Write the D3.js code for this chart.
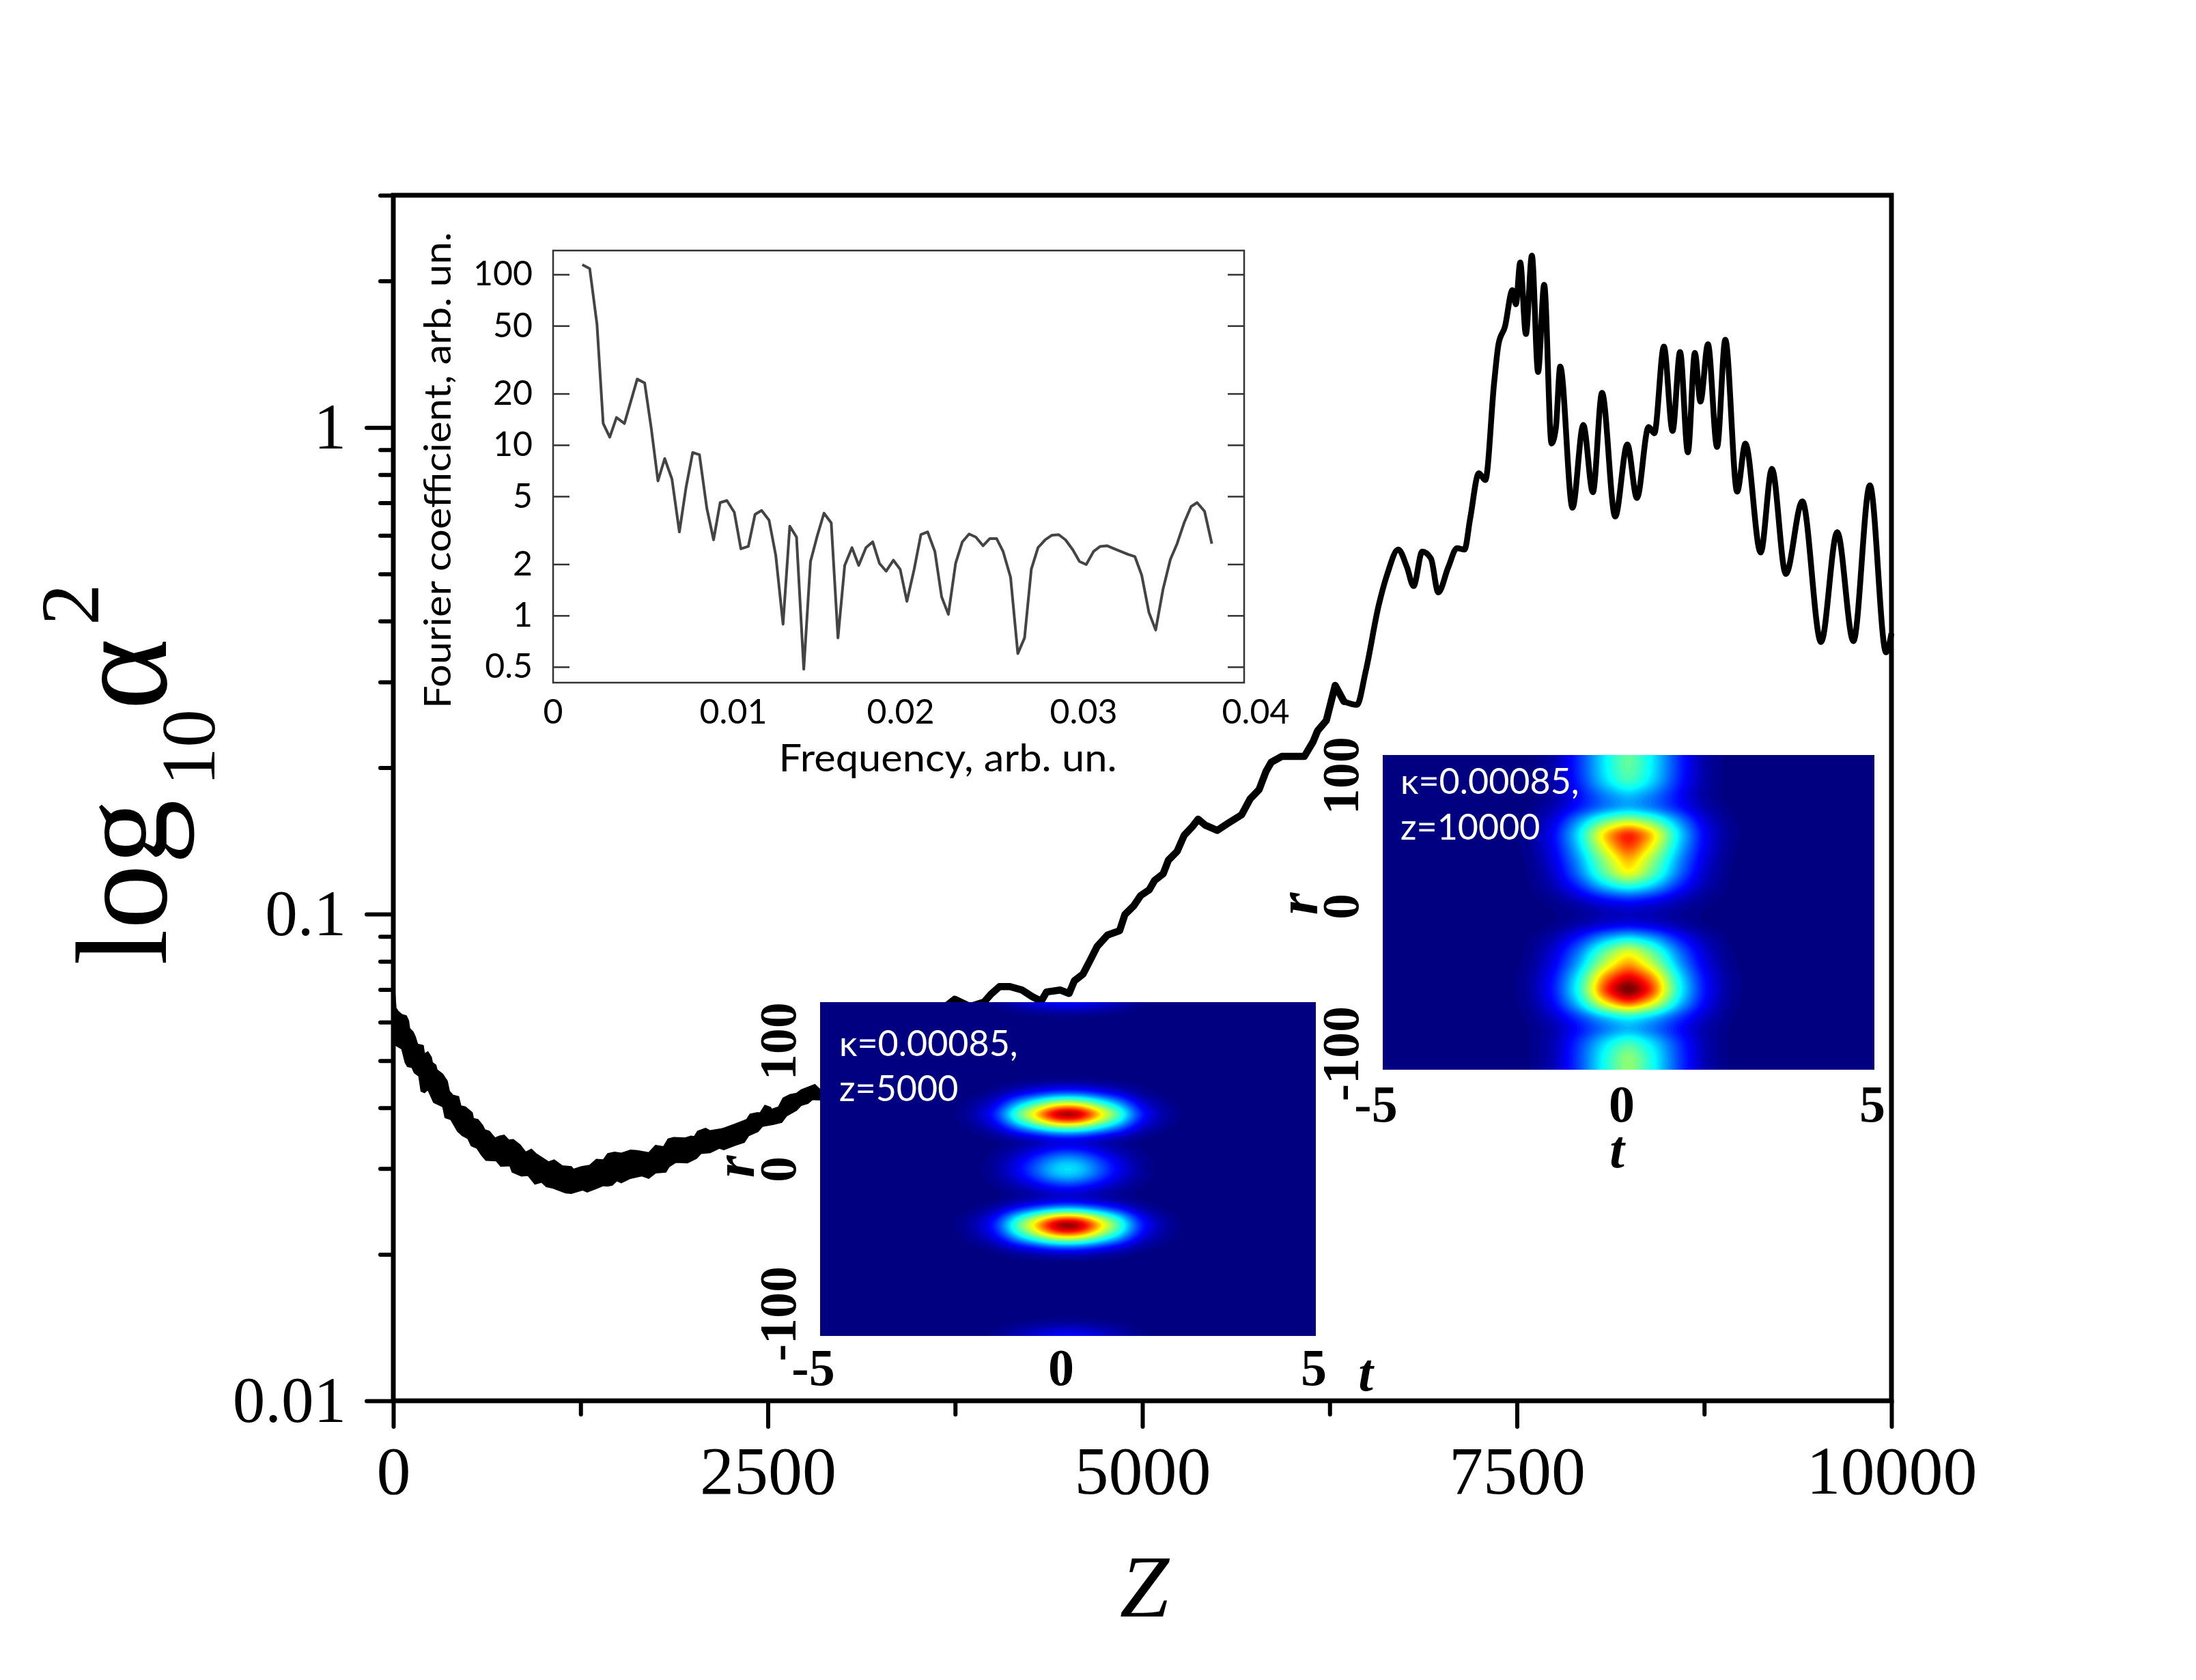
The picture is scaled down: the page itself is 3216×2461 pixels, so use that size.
<!DOCTYPE html>
<html>
<head>
<meta charset="utf-8">
<script src="https://cdn.jsdelivr.net/npm/d3@7"></script>
<style>
  body { margin: 0; background: #fff; }
  svg { display: block; }
  text { fill: #000; }
</style>
</head>
<body>
<div class="graph"></div>
<script>
// main curve, z against log10 of alpha^2
// the early part oscillates so fast it reads as a band, so keep its two edges
const topZ = [0, 5, 18, 33, 56, 87, 102, 109, 132, 147, 162, 200, 208, 231, 254, 261, 284, 292, 330, 360, 375, 398, 436, 451, 481, 527, 535, 565, 596, 611, 641, 679, 709, 740, 770, 801, 846, 884, 922, 952, 1006, 1036, 1074, 1127, 1188, 1203, 1256, 1310, 1355, 1401, 1431, 1477, 1522, 1583, 1629, 1705, 1750, 1803, 1834, 1872, 1948, 1986, 2009, 2031, 2084, 2115, 2191, 2214, 2282, 2358, 2381, 2426, 2449, 2480, 2518, 2525, 2571, 2601, 2647, 2692, 2723, 2814, 2837, 2852, 2900];
const topLog = [-1.05, -1.14, -1.193, -1.200, -1.206, -1.209, -1.219, -1.235, -1.242, -1.252, -1.267, -1.270, -1.287, -1.283, -1.294, -1.305, -1.310, -1.320, -1.329, -1.343, -1.364, -1.372, -1.375, -1.394, -1.396, -1.408, -1.420, -1.422, -1.434, -1.443, -1.446, -1.460, -1.456, -1.454, -1.464, -1.463, -1.474, -1.489, -1.483, -1.492, -1.503, -1.509, -1.505, -1.517, -1.519, -1.524, -1.519, -1.516, -1.504, -1.505, -1.492, -1.489, -1.491, -1.485, -1.486, -1.490, -1.475, -1.478, -1.462, -1.459, -1.460, -1.456, -1.457, -1.446, -1.440, -1.445, -1.441, -1.439, -1.431, -1.422, -1.411, -1.408, -1.408, -1.393, -1.397, -1.401, -1.396, -1.378, -1.371, -1.368, -1.361, -1.350, -1.357, -1.361, -1.345];
const bottomZ = [0, 18, 56, 79, 94, 124, 140, 170, 185, 208, 231, 269, 330, 345, 383, 428, 459, 497, 520, 558, 588, 618, 687, 717, 778, 793, 854, 899, 945, 990, 1021, 1066, 1150, 1188, 1264, 1294, 1355, 1401, 1431, 1462, 1492, 1522, 1583, 1659, 1705, 1750, 1819, 1841, 1887, 1963, 2024, 2054, 2115, 2176, 2206, 2282, 2343, 2373, 2434, 2464, 2540, 2593, 2624, 2692, 2723, 2768, 2798, 2852, 2900];
const bottomLog = [-1.27, -1.270, -1.277, -1.305, -1.313, -1.315, -1.326, -1.333, -1.364, -1.367, -1.361, -1.387, -1.396, -1.418, -1.422, -1.446, -1.455, -1.461, -1.476, -1.481, -1.495, -1.506, -1.507, -1.518, -1.517, -1.530, -1.538, -1.537, -1.555, -1.551, -1.560, -1.563, -1.573, -1.574, -1.567, -1.571, -1.564, -1.558, -1.559, -1.557, -1.548, -1.552, -1.543, -1.538, -1.543, -1.532, -1.530, -1.519, -1.510, -1.511, -1.502, -1.492, -1.490, -1.481, -1.484, -1.475, -1.469, -1.455, -1.447, -1.436, -1.432, -1.428, -1.415, -1.403, -1.393, -1.389, -1.381, -1.382, -1.370];

const alphaZ = [2900, 3400, 3747, 3850, 3942, 3988, 4046, 4116, 4197, 4267, 4325, 4360, 4453, 4511, 4546, 4604, 4651, 4697, 4767, 4848, 4883, 4942, 4988, 5046, 5081, 5139, 5174, 5232, 5279, 5337, 5372, 5418, 5500, 5569, 5662, 5720, 5779, 5825, 5860, 5930, 6081, 6139, 6170, 6228, 6287, 6345, 6432, 6490, 6577, 6635, 6708, 6766, 6810, 6868, 6926, 6975, 7042, 7100, 7150, 7188, 7246, 7289, 7348, 7377, 7420, 7470, 7493, 7522, 7560, 7600, 7641, 7682, 7731, 7760, 7789, 7871, 7943, 8007, 8068, 8156, 8237, 8301, 8379, 8417, 8481, 8539, 8589, 8641, 8688, 8725, 8775, 8836, 8891, 8970, 9025, 9127, 9202, 9295, 9405, 9530, 9638, 9746, 9856, 9964, 10000];
const alphaLog = [-1.352, -1.26, -1.175, -1.19, -1.181, -1.165, -1.149, -1.149, -1.156, -1.170, -1.179, -1.160, -1.156, -1.163, -1.137, -1.123, -1.095, -1.067, -1.043, -1.034, -1.001, -0.983, -0.962, -0.950, -0.931, -0.917, -0.889, -0.871, -0.838, -0.819, -0.805, -0.817, -0.828, -0.814, -0.796, -0.763, -0.744, -0.707, -0.688, -0.676, -0.676, -0.646, -0.623, -0.602, -0.530, -0.563, -0.570, -0.502, -0.366, -0.301, -0.251, -0.287, -0.326, -0.255, -0.269, -0.339, -0.287, -0.248, -0.251, -0.187, -0.094, -0.108, 0.092, 0.171, 0.207, 0.282, 0.253, 0.339, 0.192, 0.353, 0.114, 0.293, -0.033, -0.001, 0.125, -0.165, 0.005, -0.133, 0.071, -0.183, -0.035, -0.145, 0.001, -0.012, 0.166, -0.007, 0.155, -0.051, 0.153, 0.053, 0.171, -0.040, 0.180, -0.132, -0.033, -0.257, -0.085, -0.301, -0.152, -0.441, -0.215, -0.439, -0.119, -0.462, -0.423];

// fourier inset
const freq = [0.00169, 0.00212, 0.00254, 0.00290, 0.00328, 0.00367, 0.00413, 0.00487, 0.00530, 0.00568, 0.00607, 0.00646, 0.00688, 0.00731, 0.00770, 0.00808, 0.00847, 0.00890, 0.00929, 0.00967, 0.01006, 0.01049, 0.01087, 0.01130, 0.01169, 0.01207, 0.01250, 0.01289, 0.01331, 0.01370, 0.01409, 0.01451, 0.01490, 0.01529, 0.01568, 0.01610, 0.01649, 0.01688, 0.01730, 0.01769, 0.01811, 0.01850, 0.01889, 0.01928, 0.01970, 0.02009, 0.02048, 0.02090, 0.02129, 0.02168, 0.02210, 0.02249, 0.02288, 0.02330, 0.02369, 0.02408, 0.02447, 0.02489, 0.02528, 0.02567, 0.02605, 0.02648, 0.02690, 0.02729, 0.02768, 0.02807, 0.02849, 0.02888, 0.02927, 0.02966, 0.03008, 0.03047, 0.03086, 0.03128, 0.03167, 0.03206, 0.03248, 0.03287, 0.03326, 0.03368, 0.03407, 0.03449, 0.03488, 0.03531, 0.03573, 0.03612, 0.03654, 0.03693, 0.03728, 0.03771, 0.03813];
const coefLog = [2.057, 2.034, 1.708, 1.126, 1.046, 1.161, 1.126, 1.386, 1.363, 1.099, 0.789, 0.920, 0.800, 0.490, 0.754, 0.956, 0.943, 0.628, 0.444, 0.662, 0.674, 0.605, 0.391, 0.405, 0.593, 0.616, 0.559, 0.352, -0.051, 0.524, 0.460, -0.315, 0.317, 0.467, 0.600, 0.543, -0.131, 0.294, 0.398, 0.294, 0.398, 0.432, 0.306, 0.260, 0.324, 0.271, 0.083, 0.271, 0.474, 0.490, 0.375, 0.110, 0.007, 0.306, 0.432, 0.478, 0.460, 0.409, 0.451, 0.451, 0.375, 0.225, -0.223, -0.131, 0.271, 0.398, 0.444, 0.471, 0.474, 0.444, 0.386, 0.317, 0.299, 0.375, 0.405, 0.409, 0.391, 0.375, 0.359, 0.345, 0.237, 0.018, -0.085, 0.156, 0.329, 0.421, 0.547, 0.639, 0.662, 0.611, 0.421];
const coefTicks = [100, 50, 20, 10, 5, 2, 1, 0.5];
const freqTicks = [0, 0.01, 0.02, 0.03, 0.04];
const freqTickLabels = ["0", "0.01", "0.02", "0.03", "0.04"];

// z=5000 map: intensity along t (0 to 5, step 0.25) and along r (top to bottom)
// the middle blob is rounder than the outer two, so it gets its own t profile
const t5000 = [1, 0.95, 0.80, 0.62, 0.46, 0.27, 0.13, 0.07, 0.03, 0.012, 0.004, 0, 0, 0, 0, 0, 0, 0, 0, 0, 0];
const tMid5000 = [1, 0.92, 0.72, 0.50, 0.32, 0.18, 0.08, 0.03, 0.01, 0, 0, 0, 0, 0, 0, 0, 0, 0, 0, 0, 0];
const r5000 = [0.13, 0.05, 0.01, 0, 0, 0, 0, 0, 0, 0, 0, 0.01, 0.07, 0.18, 0.46, 0.78, 1.06, 0.86, 0.50, 0.2, 0.07, 0.12, 0.22, 0.31, 0.35, 0.31, 0.20, 0.10, 0.06, 0.13, 0.38, 0.80, 1.06, 0.93, 0.62, 0.27, 0.08, 0.02, 0, 0, 0, 0, 0, 0, 0, 0.005, 0.02, 0.06, 0.13];

// z=10000 map: rows top to bottom, columns |t| = 0, 0.5, 1, 1.5, 2, 2.5
const map10000 = [
  [0.50, 0.34, 0.16, 0.04, 0.005, 0],
  [0.50, 0.34, 0.16, 0.04, 0.005, 0],
  [0.46, 0.32, 0.15, 0.04, 0.005, 0],
  [0.30, 0.23, 0.12, 0.03, 0.004, 0],
  [0.26, 0.21, 0.13, 0.05, 0.01, 0],
  [0.60, 0.48, 0.27, 0.09, 0.02, 0],
  [0.95, 0.74, 0.35, 0.12, 0.025, 0],
  [0.88, 0.64, 0.31, 0.11, 0.02, 0],
  [0.76, 0.52, 0.26, 0.09, 0.015, 0],
  [0.70, 0.47, 0.23, 0.07, 0.01, 0],
  [0.40, 0.31, 0.15, 0.05, 0.01, 0],
  [0.14, 0.11, 0.06, 0.02, 0.005, 0],
  [0.05, 0.04, 0.02, 0.01, 0, 0],
  [0.09, 0.07, 0.04, 0.01, 0, 0],
  [0.36, 0.28, 0.14, 0.05, 0.01, 0],
  [0.67, 0.47, 0.23, 0.08, 0.015, 0],
  [0.78, 0.58, 0.28, 0.10, 0.02, 0],
  [0.96, 0.78, 0.36, 0.13, 0.03, 0],
  [1.10, 0.88, 0.39, 0.14, 0.03, 0],
  [0.86, 0.66, 0.32, 0.12, 0.025, 0],
  [0.36, 0.28, 0.17, 0.07, 0.015, 0],
  [0.27, 0.21, 0.12, 0.04, 0.01, 0],
  [0.46, 0.33, 0.17, 0.05, 0.01, 0],
  [0.56, 0.37, 0.18, 0.05, 0.01, 0],
  [0.56, 0.37, 0.18, 0.05, 0.01, 0]
];

const serif = "'Liberation Serif', serif";
const sans = "Lato, 'Open Sans', sans-serif";

const svg = d3.select(".graph").append("svg")
    .attr("width", 3216)
    .attr("height", 2461);

const jet = d3.scaleLinear()
    .domain([0, 0.11, 0.35, 0.65, 0.89, 1])
    .range(["#000080", "#0000ff", "#00ffff", "#ffff00", "#ff0000", "#800000"])
    .clamp(true);

function addMain() {
    const x = d3.scaleLinear().domain([0, 10000]).range([576, 2770]);
    const y = d3.scaleLog().domain([0.01, 3]).range([2052, 286]);

    const edge = d3.line()
        .x(function (d) { return x(d[0]); })
        .y(function (d) { return y(Math.pow(10, d[1])); });
    const upper = topZ.map(function (z, i) { return [z, topLog[i]]; });
    const lower = bottomZ.map(function (z, i) { return [z, bottomLog[i]]; }).reverse();
    svg.append("path")
        .attr("d", edge(upper.concat(lower)) + "Z")
        .attr("fill", "#000")
        .attr("stroke", "#000")
        .attr("stroke-width", 1.5);

    // noisy stretch is a little heavier and rougher than the end of the curve
    const split = alphaZ.indexOf(6345);
    const points = alphaLog.map(function (v, i) { return [alphaZ[i], v]; });
    svg.append("path")
        .attr("d", edge(points.slice(0, split + 1)))
        .attr("fill", "none")
        .attr("stroke", "#000")
        .attr("stroke-width", 10.5)
        .attr("stroke-linejoin", "round")
        .attr("stroke-linecap", "round");
    svg.append("path")
        .attr("d", edge.curve(d3.curveMonotoneX)(points.slice(split)))
        .attr("fill", "none")
        .attr("stroke", "#000")
        .attr("stroke-width", 8.5)
        .attr("stroke-linejoin", "round");

    svg.append("rect")
        .attr("x", 576).attr("y", 286)
        .attr("width", 2194).attr("height", 1766)
        .attr("fill", "none")
        .attr("stroke", "#000")
        .attr("stroke-width", 7);

    const xMajor = [0, 2500, 5000, 7500, 10000];
    const xMinor = [1250, 3750, 6250, 8750];
    const yMajor = [0.01, 0.1, 1];
    const yMinor = [0.02, 0.03, 0.04, 0.05, 0.06, 0.07, 0.08, 0.09, 0.2, 0.3, 0.4, 0.5, 0.6, 0.7, 0.8, 0.9, 2, 3];

    const gx = svg.append("g").attr("transform", "translate(0,2052)");
    gx.append("g").call(d3.axisBottom(x).tickValues(xMajor).tickSize(38).tickPadding(27).tickFormat(d3.format("d")));
    gx.append("g").call(d3.axisBottom(x).tickValues(xMinor).tickSize(20).tickFormat(""));

    const gy = svg.append("g").attr("transform", "translate(576,0)");
    gy.append("g").call(d3.axisLeft(y).tickValues(yMajor).tickSize(39).tickPadding(30).tickFormat(function (d) { return String(d); }));
    gy.append("g").call(d3.axisLeft(y).tickValues(yMinor).tickSize(19).tickFormat(""));

    svg.selectAll(".domain").remove();
    gx.selectAll("line").attr("stroke", "#000").attr("stroke-width", 6).attr("stroke-linecap", "round");
    gy.selectAll("line").attr("stroke", "#000").attr("stroke-width", 6).attr("stroke-linecap", "round");
    gx.selectAll("text").attr("font-family", serif).attr("font-size", 100);
    gy.selectAll("text").attr("font-family", serif).attr("font-size", 95);

    svg.append("text")
        .attr("x", 1676).attr("y", 2368)
        .attr("text-anchor", "middle")
        .attr("font-family", serif)
        .attr("font-style", "italic")
        .attr("font-size", 130)
        .text("Z");

    const parts = [
        { s: "log", x: 243, y: 1414, size: 190 },
        { s: "10", x: 314, y: 1151, size: 112 },
        { s: "\u03b1", x: 243, y: 1040, size: 200 },
        { s: "2", x: 144, y: 916, size: 122 }
    ];
    svg.selectAll(".ylabel")
        .data(parts)
        .enter().append("text")
        .attr("class", "ylabel")
        .attr("transform", function (d) { return "translate(" + d.x + "," + d.y + ") rotate(-90)"; })
        .attr("font-family", serif)
        .attr("font-size", function (d) { return d.size; })
        .text(function (d) { return d.s; });
}

function addFourier() {
    const x = d3.scaleLinear().domain([0, 0.04]).range([810, 1822]);
    const y = d3.scaleLog().domain([0.404, 138]).range([1000, 367]);
    const g = svg.append("g").attr("class", "fourier");

    g.append("rect")
        .attr("x", 810).attr("y", 367)
        .attr("width", 1012).attr("height", 633)
        .attr("fill", "#fff")
        .attr("stroke", "#333")
        .attr("stroke-width", 2.5);

    g.append("path")
        .datum(coefLog)
        .attr("d", d3.line()
            .x(function (d, i) { return x(freq[i]); })
            .y(function (d) { return y(Math.pow(10, d)); }))
        .attr("fill", "none")
        .attr("stroke", "#444")
        .attr("stroke-width", 4)
        .attr("stroke-linejoin", "round");

    const left = g.append("g").attr("transform", "translate(810,0)")
        .call(d3.axisLeft(y).tickValues(coefTicks).tickSize(-24).tickPadding(30).tickFormat(function (d) { return String(d); }));
    const right = g.append("g").attr("transform", "translate(1822,0)")
        .call(d3.axisRight(y).tickValues(coefTicks).tickSize(-24).tickFormat(""));
    left.select(".domain").remove();
    right.select(".domain").remove();
    g.selectAll("line").attr("stroke", "#333").attr("stroke-width", 2.5);
    left.selectAll("text").attr("font-family", sans).attr("font-size", 50);

    const labelShift = [0, 11, 3, 18, 17];
    g.selectAll(".freqtick")
        .data(freqTicks)
        .enter().append("text")
        .attr("class", "freqtick")
        .attr("x", function (d, i) { return x(d) + labelShift[i]; })
        .attr("y", 1060)
        .attr("text-anchor", "middle")
        .attr("font-family", sans)
        .attr("font-size", 50)
        .text(function (d, i) { return freqTickLabels[i]; });

    g.append("text")
        .attr("x", 1388).attr("y", 1130)
        .attr("text-anchor", "middle")
        .attr("font-family", sans)
        .attr("font-size", 56)
        .attr("textLength", 495)
        .attr("lengthAdjust", "spacingAndGlyphs")
        .text("Frequency, arb. un.");

    g.append("text")
        .attr("transform", "translate(660,689) rotate(-90)")
        .attr("text-anchor", "middle")
        .attr("font-family", sans)
        .attr("font-size", 54)
        .attr("textLength", 698)
        .attr("lengthAdjust", "spacingAndGlyphs")
        .text("Fourier coefficient, arb. un.");
}

// resample a coarse table onto a fine grid, then soften it
function fineGrid(table, w, h, rx, ry) {
    const nr = table.length, nc = table[0].length;
    const data = new Float64Array(w * h);
    for (let j = 0; j < h; j++) {
        const fr = j / (h - 1) * (nr - 1), r0 = Math.min(Math.floor(fr), nr - 2), ar = fr - r0;
        for (let i = 0; i < w; i++) {
            const fc = i / (w - 1) * (nc - 1), c0 = Math.min(Math.floor(fc), nc - 2), ac = fc - c0;
            data[j * w + i] = (1 - ar) * ((1 - ac) * table[r0][c0] + ac * table[r0][c0 + 1])
                + ar * ((1 - ac) * table[r0 + 1][c0] + ac * table[r0 + 1][c0 + 1]);
        }
    }
    if (d3.blur2) d3.blur2({ data: data, width: w, height: h }, rx, ry);
    return data;
}

function addMap(opt) {
    const w = 252, h = 170;
    const t = d3.scaleLinear().domain([-5, 5]).range([opt.x0, opt.x1]);
    const r = d3.scaleLinear().domain([-opt.rMax, opt.rMax]).range([opt.yMid + opt.rRange, opt.yMid - opt.rRange]);
    const gridX = d3.scaleLinear().domain([0, w]).range([-5, 5]);
    const gridY = d3.scaleLinear().domain([0, h]).range([opt.y0, opt.y1]);
    const grid = fineGrid(opt.table, w, h, opt.rx, opt.ry);

    const levels = d3.range(0, 1.01, 0.0125);
    const contours = d3.contours().size([w, h]).thresholds(levels)(Array.from(grid));
    const path = d3.geoPath(d3.geoTransform({
        point: function (px, py) { this.stream.point(t(gridX(px)), gridY(py)); }
    }));

    const g = svg.append("g").attr("class", "map");
    g.append("rect")
        .attr("x", opt.x0).attr("y", opt.y0)
        .attr("width", opt.x1 - opt.x0).attr("height", opt.y1 - opt.y0)
        .attr("fill", jet(0));
    g.selectAll(".level")
        .data(contours)
        .enter().append("path")
        .attr("class", "level")
        .attr("d", path)
        .attr("fill", function (d) { return jet(d.value); });

    g.selectAll(".ttick")
        .data([-5, 0, 5])
        .enter().append("text")
        .attr("class", "ttick")
        .attr("x", function (d) { return t(d) + (d === 5 ? -3 : -10); })
        .attr("y", opt.tBase)
        .attr("text-anchor", "middle")
        .attr("font-family", serif)
        .attr("font-weight", "bold")
        .attr("font-size", 76)
        .text(function (d) { return d; });

    g.selectAll(".rtick")
        .data([100, 0, -100])
        .enter().append("text")
        .attr("class", "rtick")
        .attr("transform", function (d) {
            return "translate(" + opt.rBase + "," + (r(d) + opt.rShift + (d < 0 ? 24 : 0)) + ") rotate(-90)";
        })
        .attr("text-anchor", "middle")
        .attr("font-family", serif)
        .attr("font-weight", "bold")
        .attr("font-size", 76)
        .text(function (d) { return d; });

    g.append("text")
        .attr("x", opt.tNameX).attr("y", opt.tNameY)
        .attr("text-anchor", "middle")
        .attr("font-family", serif)
        .attr("font-weight", "bold")
        .attr("font-style", "italic")
        .attr("font-size", 78)
        .text("t");
    g.append("text")
        .attr("transform", "translate(" + opt.rNameX + "," + opt.rNameY + ") rotate(-90)")
        .attr("text-anchor", "middle")
        .attr("font-family", serif)
        .attr("font-weight", "bold")
        .attr("font-style", "italic")
        .attr("font-size", 84)
        .text("r");

    g.selectAll(".note")
        .data(opt.notes)
        .enter().append("text")
        .attr("class", "note")
        .attr("x", opt.noteX)
        .attr("y", function (d, i) { return opt.noteY[i]; })
        .attr("font-family", sans)
        .attr("font-size", 52)
        .style("fill", "#fff")
        .text(function (d) { return d; });
}

// the t profiles run from t=0 outwards, mirror them to cover -5..5
function mirror(half) {
    return half.slice(1).reverse().concat(half);
}
const table5000 = r5000.map(function (rv, i) {
    const profile = (i >= 20 && i <= 28) ? tMid5000 : t5000;
    return mirror(profile).map(function (tv) { return rv * tv; });
});
const table10000 = map10000.map(function (row) {
    return mirror(row.concat([0, 0, 0, 0, 0]));
});

addMain();
addFourier();
addMap({
    table: table5000, x0: 1201, x1: 1927, y0: 1468, y1: 1957, rx: 2, ry: 0.8,
    yMid: 1713, rMax: 130, rRange: 244, rShift: 0, rBase: 1165, tBase: 2029,
    tNameX: 2000, tNameY: 2037, rNameX: 1104, rNameY: 1709,
    notes: ["\u03ba=0.00085,", "z=5000"], noteX: 1229, noteY: [1547, 1613]
});
addMap({
    table: table10000, x0: 2025, x1: 2745, y0: 1106, y1: 1567, rx: 2.5, ry: 1.5,
    yMid: 1336, rMax: 120, rRange: 230, rShift: -8, rBase: 1989, tBase: 1643,
    tNameX: 2368, tNameY: 1710, rNameX: 1929, rNameY: 1324,
    notes: ["\u03ba=0.00085,", "z=10000"], noteX: 2051, noteY: [1163, 1230]
});
</script>
</body>
</html>
